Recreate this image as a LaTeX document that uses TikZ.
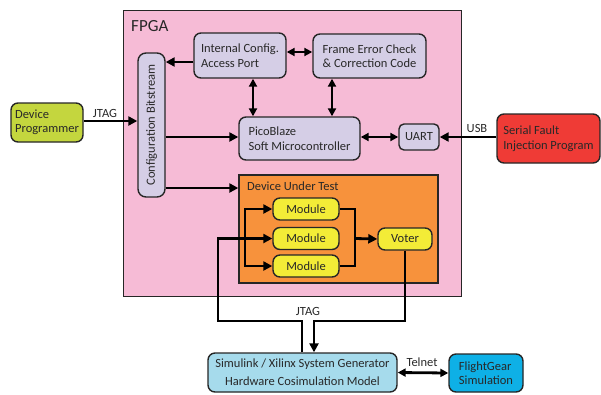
\documentclass[tikz,border=0pt]{standalone}
\usepackage{fontspec}
\setmainfont{Carlito}
\usetikzlibrary{arrows.meta,positioning}
\definecolor{fpgapink}{RGB}{246,187,214}
\definecolor{lav}{RGB}{213,206,230}
\definecolor{progreen}{RGB}{196,214,62}
\definecolor{sfired}{RGB}{239,59,54}
\definecolor{dutorange}{RGB}{247,146,60}
\definecolor{modyellow}{RGB}{243,236,55}
\definecolor{simblue}{RGB}{166,219,236}
\definecolor{fgblue}{RGB}{14,176,230}
\definecolor{edge}{RGB}{38,38,38}
\definecolor{ink}{RGB}{40,40,40}
\tikzset{
  blk/.style={draw=edge, line width=1.4pt, rounded corners=7pt, font=\fontsize{12.5}{14.5}\selectfont,
    text=ink, inner sep=2pt, minimum width=#1},
  blk/.default=10pt,
  modbox/.style={draw=edge, line width=1.4pt, rounded corners=7pt, fill=modyellow, text=ink,
    font=\fontsize{12.5}{14.5}\selectfont, minimum height=22pt, inner sep=1pt},
  wire/.style={line width=2.8pt, black},
  arr/.style={wire, -{Triangle[length=9pt,width=9pt]}},
  darr/.style={wire, {Triangle[length=8pt,width=8pt]}-{Triangle[length=8pt,width=8pt]}},
  lbl/.style={font=\fontsize{12.5}{14.5}\selectfont, text=ink, inner sep=1pt},
}
\begin{document}
\begin{tikzpicture}[x=1pt,y=-1pt]
\useasboundingbox (0,0) rectangle (601,394);

% FPGA region
\node[draw=edge, line width=1pt, fill=fpgapink, minimum width=338pt, minimum height=286pt,
  inner sep=0pt] (fpga) at (292,153) {};
\node[anchor=north west, font=\fontsize{17}{20}\selectfont, text=ink, inner sep=0pt] (fpgalbl) at (131,20) {FPGA};

% Blocks outside the FPGA
\node[blk, fill=progreen, minimum width=72pt, minimum height=39pt, align=left] (prog) at (47,122.5)
  {Device\\Programmer};
\node[blk, fill=sfired, minimum width=103pt, minimum height=49pt, align=left] (sfip) at (548.5,138.5)
  {Serial Fault\\Injection Program};
\node[blk, fill=simblue, minimum width=189pt, minimum height=39pt, align=center,
  font=\fontsize{12.5}{18}\selectfont] (sim) at (302.5,372.5)
  {Simulink / Xilinx System Generator\\Hardware Cosimulation Model};
\node[blk, fill=fgblue, minimum width=74pt, minimum height=38pt, align=left] (fg) at (486,373)
  {FlightGear\\Simulation};

% Blocks inside the FPGA
\node[blk, fill=lav, minimum width=27pt, minimum height=144pt, rounded corners=8pt] (config) at (151.5,125)
  {\rotatebox{90}{Configuration Bitstream}};
\node[blk, fill=lav, minimum width=92pt, minimum height=45pt, align=left] (icap) at (240,55.5)
  {Internal Config.\\Access Port};
\node[blk, fill=lav, minimum width=113pt, minimum height=44pt, align=left] (fecc) at (369.5,56)
  {Frame Error Check\\\& Correction Code};
\node[blk, fill=lav, minimum width=121pt, minimum height=43pt, align=left] (pico) at (299.5,138.5)
  {PicoBlaze\\Soft Microcontroller};
\node[blk, fill=lav, minimum width=40pt, minimum height=26pt, rounded corners=5pt] (uart) at (419,137)
  {UART};

% Device under test
\node[draw=edge, line width=1.4pt, fill=dutorange, minimum width=199pt, minimum height=108pt,
  inner sep=0pt] (dut) at (338.5,229) {};
\node[lbl, anchor=west] (dutlbl) at (246,186) {Device Under Test};
\node[modbox, minimum width=66pt] (m1) at (306,209) {Module};
\node[modbox, minimum width=66pt] (m2) at (306,238.5) {Module};
\node[modbox, minimum width=66pt] (m3) at (306,266) {Module};
\node[modbox, minimum width=54pt] (voter) at (405,239) {Voter};

% Configuration paths
\draw[arr] (prog.east |- 0,121) -- (config.west |- 0,121);
\node[lbl] (jtag1) at (105,113) {JTAG};
\draw[arr] ([yshift=-6.5pt]icap.west) coordinate (ia) -- (ia -| config.east);
\draw[darr] ([yshift=3.5pt]icap.east) coordinate (ib) -- (ib -| fecc.west);
\draw[darr] ([xshift=13pt]icap.south) coordinate (ic) -- (ic |- pico.north);
\draw[darr] ([xshift=-37.5pt]fecc.south) coordinate (fc) -- (fc |- pico.north);
\draw[arr] (config.east |- 0,137) -- (pico.west |- 0,137);
\draw[darr] (pico.east |- uart.west) -- (uart.west);
\draw[arr] (sfip.west |- uart.east) -- (uart.east);
\node[lbl] (usb) at (477,128) {USB};
\draw[arr] (config.east |- 0,188) -- (dut.west |- 0,188);

% Triple modular redundancy
\draw[wire] (m1.east) -- (355,209) -- (355,266) -- (m3.east);
\draw[arr] (m2.east -| 355,0) -- (voter.west);
\draw[arr] ([xshift=-0.5pt]sim.north) coordinate (sa) -- (sa |- 0,321) -- (218,321) -- (218,238.5) -- (m2.west);
\draw[arr] (245,238.5) |- (m1.west);
\draw[arr] (245,238.5) |- (m3.west);
\draw[arr] (voter.south) -- (voter.south |- 0,321) -- (314,321) -- (314,0 |- sim.north);
\node[lbl] (jtag2) at (308,311) {JTAG};

% Simulation link
\draw[darr] (sim.east) -- (fg.west);
\node[lbl] (telnet) at (422,362) {Telnet};
\end{tikzpicture}
\end{document}
